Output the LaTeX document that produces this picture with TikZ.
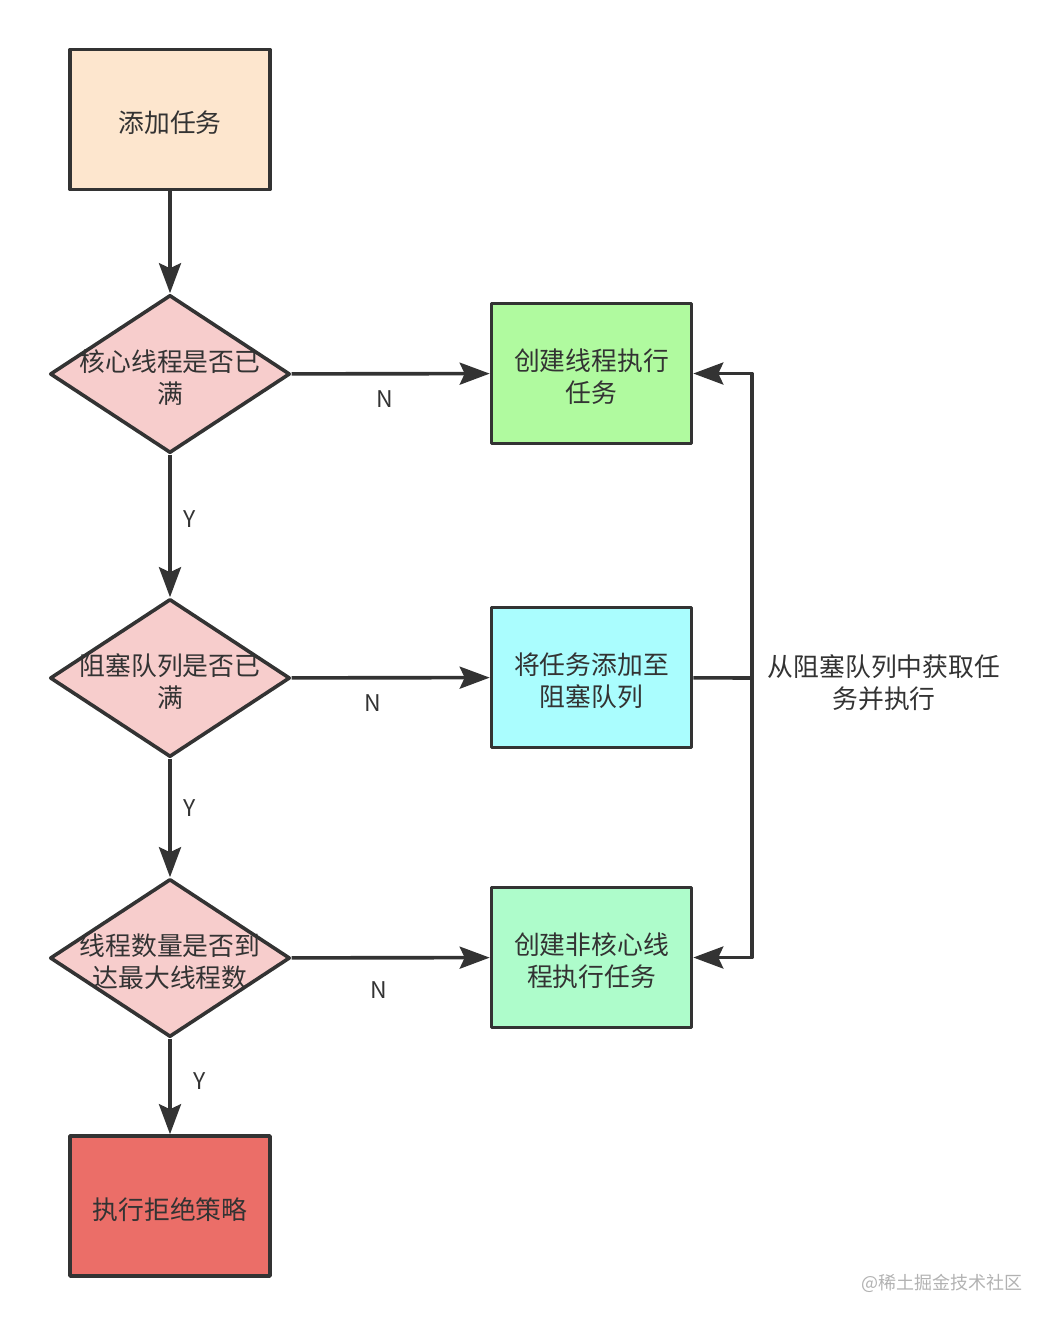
\documentclass[tikz,border=0pt]{standalone}
\usepackage{fontspec}
\setmainfont{Noto Sans CJK SC}
\usetikzlibrary{shapes.geometric,arrows.meta}
\definecolor{ink}{HTML}{333333}
\definecolor{peach}{HTML}{FDE6CE}
\definecolor{rose}{HTML}{F7CDCC}
\definecolor{lime}{HTML}{B0FA9F}
\definecolor{aqua}{HTML}{AAFDFE}
\definecolor{mint}{HTML}{AEFCCB}
\definecolor{alarm}{HTML}{EB6E68}
\begin{document}
\begin{tikzpicture}[x=1pt, y=-1pt, >={Stealth[length=30pt,width=22pt,inset=5pt]}, line join=round, text=ink,
	font=\fontsize{25.8}{32}\selectfont,
	box/.style={draw=ink, line width=3.6pt, minimum width=200pt, minimum height=140pt, inner sep=0pt},
	decision/.style={diamond, draw=ink, fill=rose, line width=3.6pt, minimum width=240pt, minimum height=158pt, inner sep=0pt},
	inner/.style={align=center, yshift=-3.5pt},
	yn/.style={font=\fontsize{23}{23}\selectfont, inner sep=0pt},
	link/.style={draw=ink, line width=3.6pt}]
				\useasboundingbox (0,0) rectangle (1054,1326);
				% left column
				\node[box, fill=peach, label={[inner]center:添加任务}] (add) at (170,119.5) {};
				\node[decision, label={[inner]center:核心线程是否已\\满}] (core) at (170,374) {};
				\node[decision, label={[inner]center:阻塞队列是否已\\满}] (queue) at (170,678) {};
				\node[decision, label={[inner]center:线程数量是否到\\达最大线程数}] (max) at (170,958) {};
				\node[box, fill=alarm, label={[inner]center:执行拒绝策略}] (reject) at (170,1206) {};
				% right column
				\node[box, fill=lime, label={[inner]center:创建线程执行\\任务}] (newcore) at (591.5,373.5) {};
				\node[box, fill=aqua, label={[inner]center:将任务添加至\\阻塞队列}] (enqueue) at (591.5,677.5) {};
				\node[box, fill=mint, label={[inner]center:创建非核心线\\程执行任务}] (newextra) at (591.5,957.5) {};
				\coordinate (J) at (752,678);
				\node[align=center] (take) at (884,683) {从阻塞队列中获取任\\务并执行};
				\node[text=black!30, font=\fontsize{18}{18}\selectfont] (mark) at (942,1283) {@稀土掘金技术社区};
				% connectors
				\draw[link,->] (add)--(core);
				\draw[link,->] (core)--node[yn, pos=.45, xshift=20pt]{Y}(queue);
				\draw[link,->] (queue)--node[yn, pos=.42, xshift=20pt]{Y}(max);
				\draw[link,->] (max)--node[yn, pos=.44, xshift=30pt]{Y}(reject);
				\draw[link,->] (core)--node[yn, pos=.47, yshift=-25pt]{N}(newcore);
				\draw[link,->] (queue)--node[yn, pos=.41, yshift=-25pt]{N}(enqueue);
				\draw[link,->] (max)--node[yn, pos=.44, yshift=-32pt]{N}(newextra);
				\draw[link] (enqueue)--(J);
				\draw[link,->] (J)|-(newcore);
				\draw[link,->] (J)|-(newextra);
			\end{tikzpicture}
\end{document}
